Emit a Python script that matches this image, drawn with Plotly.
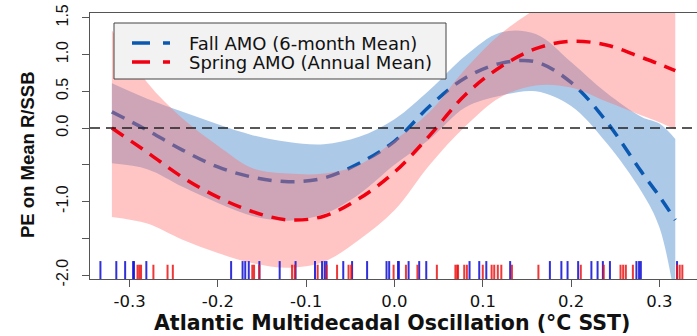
import plotly.graph_objects as go

# ---- data ----
amo_x = [-0.32, -0.28, -0.24, -0.20, -0.16, -0.12, -0.08, -0.04, 0.00, 0.04,
         0.08, 0.12, 0.16, 0.20, 0.24, 0.28, 0.30, 0.318]

fall_mean = [0.22, -0.03, -0.30, -0.53, -0.67, -0.73, -0.68, -0.48, -0.18, 0.30,
             0.68, 0.88, 0.90, 0.62, 0.09, -0.60, -0.93, -1.25]
fall_upper = [0.61, 0.40, 0.22, 0.05, -0.10, -0.19, -0.22, -0.12, 0.12, 0.52,
              0.98, 1.30, 1.28, 0.90, 0.48, 0.15, 0.06, -0.15]
fall_lower = [-0.48, -0.56, -0.80, -1.02, -1.20, -1.26, -1.17, -0.90, -0.50, -0.15,
              0.28, 0.44, 0.50, 0.30, -0.20, -0.87, -1.35, -2.35]

spring_mean = [0.00, -0.33, -0.67, -0.94, -1.14, -1.25, -1.20, -0.96, -0.60, -0.10,
               0.45, 0.83, 1.08, 1.18, 1.13, 0.96, 0.87, 0.78]
spring_upper = [1.33, 0.62, 0.13, -0.24, -0.55, -0.62, -0.62, -0.50, -0.17, 0.22,
                0.80, 1.28, 1.62, 1.90, 2.00, 2.00, 2.00, 2.00]
spring_lower = [-1.21, -1.30, -1.52, -1.70, -1.84, -1.90, -1.82, -1.52, -1.12, -0.50,
                0.02, 0.42, 0.58, 0.55, 0.36, 0.17, 0.08, -0.02]

fall_rug = [-0.333, -0.315, -0.305, -0.296, -0.295, -0.281, -0.185, -0.172, -0.169,
            -0.165, -0.153, -0.130, -0.112, -0.090, -0.082, -0.079, -0.077, -0.058,
            -0.048, -0.031, -0.009, -0.006, 0.004, 0.005, 0.016, 0.028, 0.036, 0.085,
            0.096, 0.104, 0.131, 0.176, 0.189, 0.196, 0.208, 0.223, 0.230, 0.236,
            0.244, 0.274, 0.277, 0.279, 0.320]
spring_rug = [-0.291, -0.289, -0.287, -0.273, -0.257, -0.251, -0.161, -0.159, -0.153,
              -0.116, -0.113, -0.087, -0.077, -0.065, -0.052, -0.049, -0.001, 0.013,
              0.026, 0.048, 0.069, 0.071, 0.072, 0.079, 0.082, 0.100, 0.110, 0.113,
              0.117, 0.121, 0.133, 0.163, 0.211, 0.237, 0.256, 0.259, 0.262, 0.270,
              0.320, 0.323, 0.326]

x_ticks = [-0.3, -0.2, -0.1, 0.0, 0.1, 0.2, 0.3]
x_ticktext = ["-0.3", "-0.2", "-0.1", "0.0", "0.1", "0.2", "0.3"]
y_ticks = [-2.0, -1.5, -1.0, -0.5, 0.0, 0.5, 1.0, 1.5]
y_ticktext = ["-2.0", "", "-1.0", "", "0.0", "0.5", "1.0", "1.5"]

labels = ["Fall AMO (6-month Mean)", "Spring AMO (Annual Mean)"]

# ---- styles ----
BLUE_LINE = "#0a58b0"
RED_LINE = "#f00010"
BLUE_FILL = "rgba(20,100,190,0.35)"
RED_FILL = "rgba(255,110,110,0.40)"
Y_BOTTOM = -2.054

# plot area in pixels (for placing the legend box)
L, R, T, B = 90, 697, 13, 279


def px_x(p):
    return (p - L) / (R - L)


def px_y(p):
    return (B - p) / (B - T)


def rug(vals, top):
    xs, ys = [], []
    for v in vals:
        xs += [v, v, None]
        ys += [Y_BOTTOM, top, None]
    return xs, ys


fig = go.Figure()

# Fall band + line
fig.add_trace(go.Scatter(x=amo_x, y=fall_upper, mode="lines", line=dict(width=0, shape="spline"),
                         showlegend=False, hoverinfo="skip"))
fig.add_trace(go.Scatter(x=amo_x, y=fall_lower, mode="lines", line=dict(width=0, shape="spline"),
                         fill="tonexty", fillcolor=BLUE_FILL, showlegend=False, hoverinfo="skip"))
fig.add_trace(go.Scatter(x=amo_x, y=fall_mean, mode="lines", name=labels[0], showlegend=False,
                         line=dict(color=BLUE_LINE, width=3.5, dash="14px,9px", shape="spline")))

# Spring band + line
fig.add_trace(go.Scatter(x=amo_x, y=spring_upper, mode="lines", line=dict(width=0, shape="spline"),
                         showlegend=False, hoverinfo="skip"))
fig.add_trace(go.Scatter(x=amo_x, y=spring_lower, mode="lines", line=dict(width=0, shape="spline"),
                         fill="tonexty", fillcolor=RED_FILL, showlegend=False, hoverinfo="skip"))
fig.add_trace(go.Scatter(x=amo_x, y=spring_mean, mode="lines", name=labels[1], showlegend=False,
                         line=dict(color=RED_LINE, width=3.5, dash="14px,9px", shape="spline")))

# Rugs
rx, ry = rug(fall_rug, -1.81)
fig.add_trace(go.Scatter(x=rx, y=ry, mode="lines", line=dict(color="rgba(25,25,215,0.9)", width=2),
                         showlegend=False, hoverinfo="skip"))
rx, ry = rug(spring_rug, -1.86)
fig.add_trace(go.Scatter(x=rx, y=ry, mode="lines", line=dict(color="rgba(235,20,20,0.85)", width=2),
                         showlegend=False, hoverinfo="skip"))

# zero reference line
fig.add_shape(type="line", xref="x domain", x0=0, x1=1, yref="y", y0=0, y1=0,
              line=dict(color="#222222", width=1.6, dash="10px,6px"), layer="above")

# legend box (drawn by hand to match the R-style legend)
fig.add_shape(type="rect", xref="paper", yref="paper",
              x0=px_x(114), x1=px_x(446), y0=px_y(79), y1=px_y(23),
              fillcolor="#f2f2f2", line=dict(color="#444444", width=1), layer="above")
annots = []
for i, (lab, col) in enumerate(zip(labels, [BLUE_LINE, RED_LINE])):
    yy = px_y(43 + 19 * i)
    fig.add_shape(type="line", xref="paper", yref="paper",
                  x0=px_x(132), x1=px_x(170), y0=yy, y1=yy,
                  line=dict(color=col, width=3.5, dash="18px,13px"), layer="above")
    annots.append(dict(text=lab, xref="paper", yref="paper", x=px_x(187), y=yy,
                       xanchor="left", yanchor="middle", showarrow=False,
                       font=dict(family="DejaVu Sans", size=18, color="#111111")))

annots += [
    dict(text="<b>Atlantic Multidecadal Oscillation (°C SST)</b>", xref="paper", yref="paper",
         x=px_x(392), y=px_y(323), xanchor="center", yanchor="middle", showarrow=False,
         font=dict(family="DejaVu Sans", size=20.5, color="#111111")),
    dict(text="<b>PE on Mean R/SSB</b>", xref="paper", yref="paper",
         x=px_x(27), y=px_y(155), xanchor="center", yanchor="middle", showarrow=False,
         textangle=-90, font=dict(family="Liberation Sans", size=18.5, color="#111111")),
]

fig.update_layout(
    width=697, height=336,
    margin=dict(l=L, r=0, t=T, b=336 - B),
    paper_bgcolor="white", plot_bgcolor="white",
    font=dict(family="DejaVu Sans", color="#111111"),
    showlegend=False,
    xaxis=dict(range=[-0.3448, 0.3426], tickvals=x_ticks, ticktext=x_ticktext,
               showgrid=False, zeroline=False, showline=True, mirror=True,
               linecolor="#555555", linewidth=1.3, ticks="outside", ticklen=7,
               tickcolor="#555555", tickwidth=1.3,
               tickfont=dict(family="DejaVu Sans", size=16.5, color="#111111")),
    yaxis=dict(range=[Y_BOTTOM, 1.565], tickvals=y_ticks, ticktext=y_ticktext,
               showgrid=False, zeroline=False, showline=True, mirror=False,
               linecolor="#555555", linewidth=1.3, ticks="outside", ticklen=7,
               tickcolor="#555555", tickwidth=1.3, tickangle=-90, ticklabelstandoff=7,
               tickfont=dict(family="Liberation Sans", size=16, color="#111111")),
    annotations=annots,
)

fig.write_html("out.html")
